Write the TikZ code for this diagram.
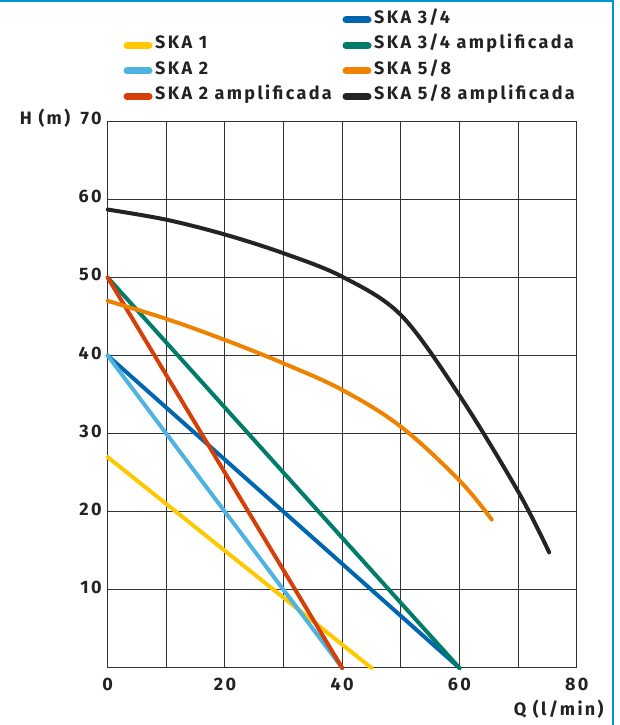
\documentclass[tikz,border=0pt]{standalone}
\usepackage{fontspec}
\setmainfont{Fira Sans}
\newfontfamily\lblfont[LetterSpace=13]{Fira Sans}
\usetikzlibrary{positioning}

\definecolor{frameblue}{HTML}{0096D6}
\definecolor{txtgray}{HTML}{222222}
\definecolor{gridgray}{HTML}{333333}
\definecolor{skaone}{HTML}{FFC800}
\definecolor{skatwo}{HTML}{4DB3E0}
\definecolor{skatwoa}{HTML}{D63F08}
\definecolor{skatres}{HTML}{0066B0}
\definecolor{skatresa}{HTML}{007C69}
\definecolor{skacinco}{HTML}{EF8200}
\definecolor{skacincoa}{HTML}{242424}

\begin{document}
\begin{tikzpicture}[x=1pt,y=1pt,
  lbl/.style={font=\lblfont\bfseries\fontsize{18}{21}\selectfont,text=txtgray,inner sep=0pt,text height=0.69em,text depth=0pt},
  swatch/.style={line width=7pt,line cap=round},
  curve/.style={line width=4pt,line cap=round,line join=round},
  gridline/.style={draw=gridgray,line width=1pt}]

  \useasboundingbox (0,0) rectangle (619,725);
  \draw[frameblue,line width=2.2pt] (0,724) -- (613,724) -- (613,0);

  % legend
  \node[lbl,anchor=west] (l34)  at (374,705)   {SKA 3/4};
  \node[lbl,anchor=west] (l1)   at (155,679.5) {SKA 1};
  \node[lbl,anchor=west] (l34a) at (374,679.5) {SKA 3/4 amplificada};
  \node[lbl,anchor=west] (l2)   at (155,654)   {SKA 2};
  \node[lbl,anchor=west] (l58)  at (374,654)   {SKA 5/8};
  \node[lbl,anchor=west] (l2a)  at (155,628.5) {SKA 2 amplificada};
  \node[lbl,anchor=west] (l58a) at (374,628.5) {SKA 5/8 amplificada};
  \foreach \n/\c in {l34/skatres,l1/skaone,l34a/skatresa,l2/skatwo,l58/skacinco,l2a/skatwoa,l58a/skacincoa}
    \draw[swatch,\c] ([xshift=-6pt]\n.west) -- ++(-22,0);

  % chart
  \begin{scope}[shift={(107.7,57)},x=5.863pt,y=7.81pt]
    \foreach \q in {0,10,...,80}
      \draw[gridline] (\q,0) -- (\q,70);
    \foreach \h in {10,20,...,70}
      \draw[gridline] (0,\h) -- (80,\h);
    \draw[gridline] (0,0) -- (80,0);

    \foreach \h in {10,20,...,70}
      \node[lbl,anchor=east] (h\h) at (-1.0,\h) {\h};
    \node[lbl,left=10pt of h70] (hlab) {H (m)};
    \foreach \q in {0,20,...,80}
      \node[lbl] (q\q) at (\q,-2.43) {\q};
    \node[lbl,anchor=east] (qlab) at (84.6,-5.63) {Q (l/min)};

    \draw[curve,skaone]   (0,27) -- (45,0);
    \draw[curve,skatres]  (0,40) -- (60,0);
    \draw[curve,skatwo]   (0,40) -- (40,0);
    \draw[curve,skatresa] (0,50) -- (60,0);
    \draw[curve,skatwoa]  (0,50) -- (40,0);
    \draw[curve,skacinco] plot[smooth,tension=0.6] coordinates
      {(0,47) (10,44.7) (20,42) (30,39) (40,35.6) (50,30.9) (60,24) (65.5,19)};
    \draw[curve,skacincoa] plot[smooth,tension=0.55] coordinates
      {(0,58.7) (10,57.4) (20,55.5) (30,53.1) (40,50.1) (50,45.2)
       (60,34.9) (70,22.6) (75.3,14.8)};
  \end{scope}
\end{tikzpicture}
\end{document}
